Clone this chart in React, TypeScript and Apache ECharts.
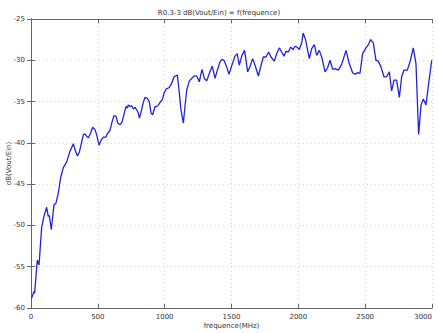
import React, { useEffect, useRef } from "react";
import * as echarts from "echarts";

const freqMHz = [5, 22, 27, 47, 60, 80, 97, 117, 129, 137, 152, 172, 187, 204, 222, 242, 267, 292, 317, 329, 347, 362, 379, 392, 404, 411, 429, 446, 461, 479, 491, 509, 524, 541, 561, 571, 591, 604, 621, 636, 649, 666, 681, 698, 711, 721, 728, 741, 753, 766, 778, 791, 803, 811, 823, 840, 853, 870, 885, 898, 910, 928, 940, 953, 970, 982, 995, 1010, 1035, 1052, 1070, 1095, 1110, 1122, 1140, 1152, 1165, 1185, 1202, 1222, 1239, 1259, 1279, 1297, 1314, 1334, 1356, 1377, 1394, 1414, 1429, 1444, 1464, 1481, 1501, 1526, 1543, 1558, 1578, 1598, 1621, 1638, 1658, 1678, 1701, 1721, 1738, 1758, 1778, 1795, 1820, 1838, 1858, 1875, 1893, 1908, 1925, 1943, 1960, 1975, 1990, 2007, 2025, 2036, 2054, 2082, 2100, 2120, 2137, 2157, 2175, 2200, 2219, 2237, 2257, 2274, 2299, 2324, 2357, 2381, 2406, 2424, 2444, 2461, 2481, 2506, 2524, 2541, 2561, 2581, 2598, 2618, 2641, 2661, 2681, 2698, 2716, 2735, 2756, 2773, 2790, 2815, 2835, 2860, 2880, 2900, 2918, 2935, 2955, 2972, 2998];

const gainDb = [-58.8, -58.0, -58.2, -54.2, -54.8, -50.2, -48.9, -47.8, -48.9, -48.8, -50.5, -47.5, -47.3, -46.1, -44.2, -43.0, -42.3, -41.0, -40.1, -40.8, -41.6, -41.1, -39.9, -39.0, -38.9, -39.1, -39.4, -38.8, -38.1, -38.4, -39.0, -40.3, -39.7, -39.3, -39.3, -38.9, -38.5, -37.6, -36.7, -36.8, -37.6, -37.8, -37.5, -36.4, -35.6, -35.8, -35.4, -35.6, -35.5, -35.9, -35.7, -36.0, -36.4, -37.0, -36.3, -35.1, -34.5, -34.6, -35.0, -36.4, -36.6, -35.6, -35.6, -35.4, -35.0, -34.8, -34.0, -33.5, -33.3, -32.8, -32.0, -31.8, -34.0, -36.0, -37.6, -35.6, -33.6, -32.5, -32.2, -31.9, -31.9, -32.6, -31.1, -32.2, -32.5, -31.6, -30.7, -32.2, -31.2, -30.2, -29.9, -30.0, -30.8, -31.7, -30.7, -29.5, -29.2, -30.6, -29.4, -28.8, -31.4, -30.8, -29.8, -30.7, -31.9, -30.6, -29.6, -29.6, -29.0, -29.6, -30.1, -29.2, -28.5, -29.0, -29.5, -28.9, -29.0, -28.4, -28.7, -28.3, -28.4, -28.7, -27.9, -26.7, -27.5, -29.8, -28.6, -28.1, -29.4, -28.8, -29.6, -31.4, -30.9, -30.0, -31.1, -31.0, -31.2, -30.5, -28.8, -30.4, -31.5, -31.7, -31.5, -31.6, -29.2, -28.5, -28.1, -27.5, -27.9, -30.0, -30.1, -30.8, -32.0, -32.0, -31.4, -33.7, -32.4, -32.4, -34.5, -32.0, -31.2, -31.2, -30.2, -28.5, -30.4, -39.0, -35.4, -34.7, -35.4, -33.2, -30.0];

const titleText = "R0.3-3 dB(Vout/Ein) = f(frequence)";
const xName = "frequence(MHz)";
const yName = "dB(Vout/Ein)";

export default function App() {
  const ref = useRef<HTMLDivElement>(null);
  useEffect(() => {
    if (!ref.current) return;
    const chart = echarts.init(ref.current, null, { renderer: "svg" });
    const font = "DejaVu Sans";
    const labelColor = "#333";
    const axisLine = { show: true, lineStyle: { color: "#666", width: 1 } };
    const tick = { show: true, inside: true, length: 4, lineStyle: { color: "#666" } };
    const grid = { show: true, lineStyle: { color: "#d4d4d4", type: [1, 3], width: 1 } };
    chart.setOption({
      animation: false,
      backgroundColor: "#ffffff",
      title: {
        text: titleText,
        left: "center",
        top: 4,
        textStyle: { fontSize: 7, fontWeight: "normal", color: labelColor, fontFamily: font },
      },
      grid: { left: 31, right: 6, top: 19, bottom: 25, containLabel: false, outerBoundsMode: "none" },
      xAxis: [
        {
          type: "value",
          min: 0,
          max: 3000,
          interval: 500,
          name: xName,
          nameLocation: "middle",
          nameGap: 14,
          nameMoveOverlap: false,
          nameTextStyle: { fontSize: 7, color: labelColor, fontFamily: font },
          axisLine,
          axisTick: tick,
          axisLabel: {
            fontSize: 7,
            color: labelColor,
            fontFamily: font,
            margin: 5,
            alignMaxLabel: "right",
            formatter: (v: number) => String(v),
          },
          splitLine: grid,
        },
        {
          type: "value",
          position: "top",
          min: 0,
          max: 3000,
          interval: 500,
          axisLine,
          axisTick: tick,
          axisLabel: { show: false },
          splitLine: { show: false },
        },
      ],
      yAxis: [
        {
          type: "value",
          min: -60,
          max: -25,
          interval: 5,
          name: yName,
          nameLocation: "middle",
          nameGap: 19,
          nameRotate: 90,
          nameMoveOverlap: false,
          nameTextStyle: { fontSize: 7, color: labelColor, fontFamily: font },
          axisLine,
          axisTick: tick,
          axisLabel: { fontSize: 7, color: labelColor, fontFamily: font, margin: 6, formatter: (v: number) => String(v) },
          splitLine: grid,
        },
        {
          type: "value",
          position: "right",
          min: -60,
          max: -25,
          interval: 5,
          axisLine,
          axisTick: tick,
          axisLabel: { show: false },
          splitLine: { show: false },
        },
      ],
      series: [
        {
          type: "line",
          data: freqMHz.map((f, i) => [f, gainDb[i]]),
          showSymbol: false,
          symbol: "none",
          lineStyle: { color: "#2222dd", width: 1.3 },
          xAxisIndex: 0,
          yAxisIndex: 0,
        },
      ],
    });
    return () => chart.dispose();
  }, []);
  return (
    <div
      ref={ref}
      style={{ position: "fixed", left: 0, top: 0, width: 438, height: 333, background: "#fff" }}
    />
  );
}
